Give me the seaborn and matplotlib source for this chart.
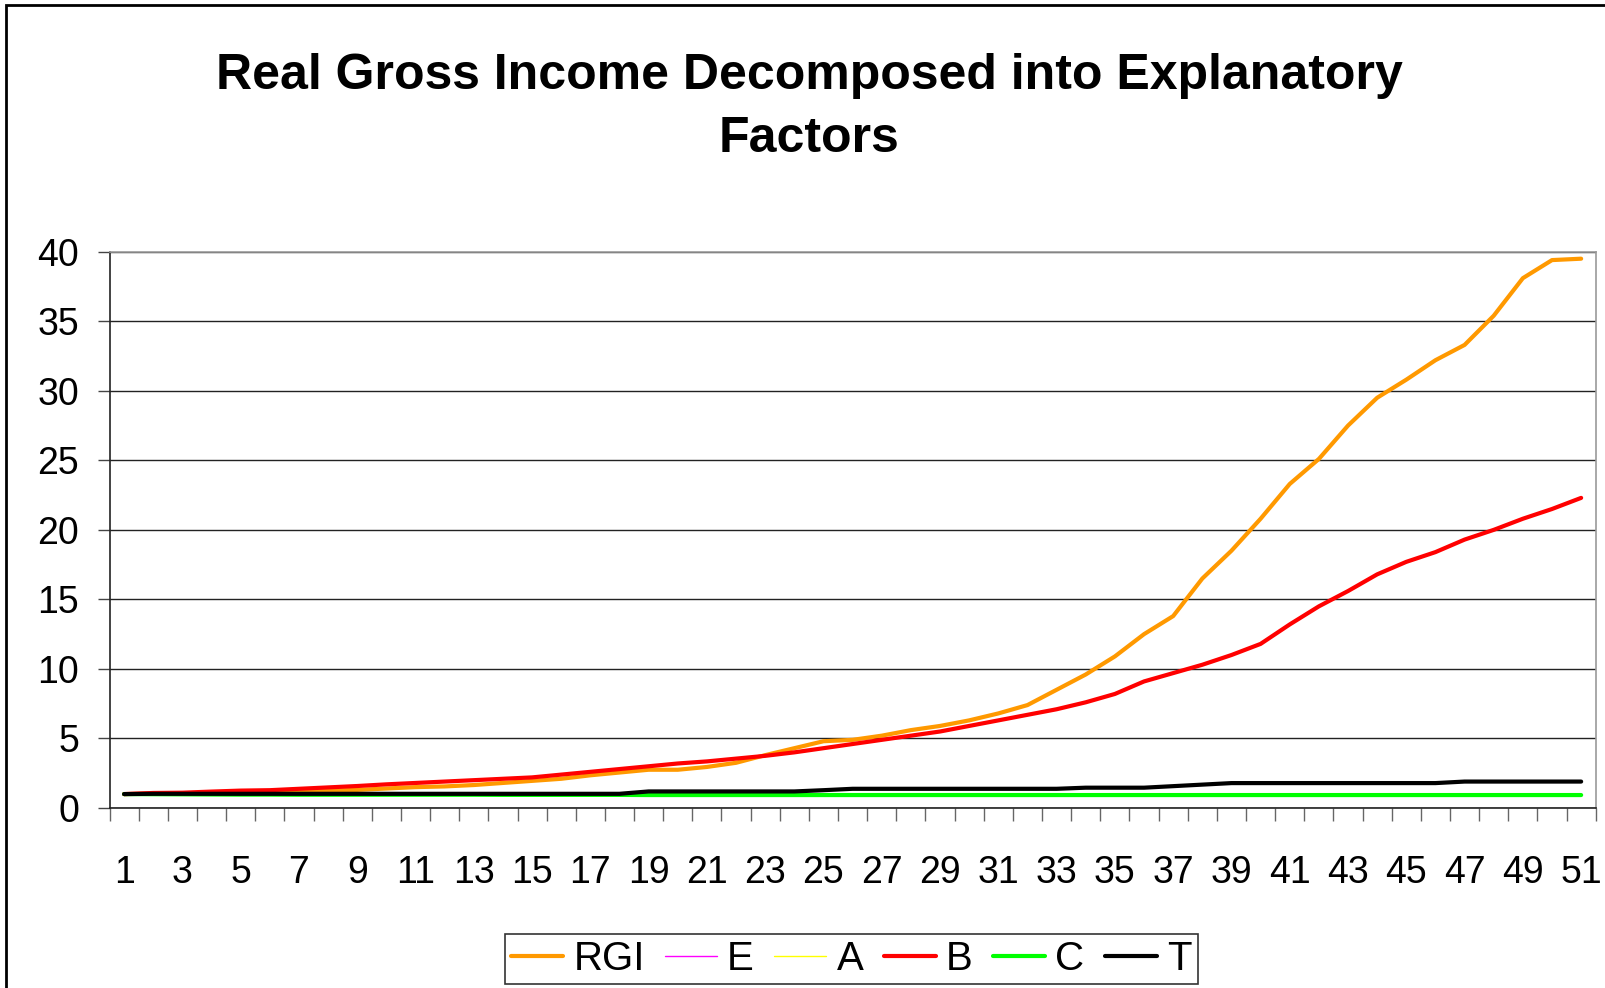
import numpy as np
import pandas as pd
import matplotlib
matplotlib.use("Agg")
import matplotlib.pyplot as plt
import seaborn as sns
from matplotlib.patches import Rectangle

# --- data ---
periods = list(range(1, 52))

rgi = [1.0, 1.03, 1.06, 1.1, 1.15, 1.2, 1.22, 1.25, 1.3, 1.4,
       1.5, 1.55, 1.65, 1.8, 1.95, 2.1, 2.35, 2.55, 2.75, 2.75,
       2.95, 3.25, 3.8, 4.3, 4.8, 4.9, 5.2, 5.6, 5.9, 6.3,
       6.8, 7.4, 8.5, 9.6, 10.9, 12.5, 13.8, 16.5, 18.5, 20.8,
       23.3, 25.1, 27.5, 29.5, 30.8, 32.2, 33.3, 35.4, 38.1, 39.4,
       39.5]

e_series = [1.0, 1.0, 1.0, 1.0, 1.0, 0.98, 0.95, 0.95, 0.97, 1.0,
            1.0, 1.0, 1.0, 1.0, 1.0, 1.0, 1.0, 1.0, 1.0, 1.0,
            1.0, 1.0, 1.0, 1.0, 1.0, 1.0, 1.0, 1.0, 1.0, 1.0,
            1.0, 1.0, 1.0, 1.0, 1.0, 1.0, 1.0, 1.0, 1.0, 1.0,
            1.0, 1.0, 1.0, 1.0, 1.0, 1.0, 1.0, 1.0, 1.0, 1.0,
            1.0]

a_series = [1.0] * 51

b_series = [1.0, 1.08, 1.1, 1.18, 1.25, 1.28, 1.38, 1.48, 1.58, 1.7,
            1.8, 1.9, 2.0, 2.1, 2.2, 2.4, 2.6, 2.8, 3.0, 3.2,
            3.35, 3.55, 3.75, 4.0, 4.3, 4.6, 4.9, 5.2, 5.5, 5.9,
            6.3, 6.7, 7.1, 7.6, 8.2, 9.1, 9.7, 10.3, 11.0, 11.8,
            13.2, 14.5, 15.6, 16.8, 17.7, 18.4, 19.3, 20.0, 20.8, 21.5,
            22.3]

c_series = [1.0, 0.99, 0.98, 0.97, 0.96, 0.96, 0.95, 0.95, 0.95, 0.95,
            0.95, 0.95, 0.95, 0.94, 0.94, 0.94, 0.94, 0.94, 0.93, 0.93,
            0.93, 0.93, 0.93, 0.93, 0.93, 0.93, 0.93, 0.93, 0.93, 0.93,
            0.93, 0.93, 0.93, 0.93, 0.93, 0.93, 0.93, 0.93, 0.93, 0.93,
            0.93, 0.93, 0.93, 0.93, 0.93, 0.93, 0.93, 0.93, 0.93, 0.93,
            0.93]

t_series = [1.0, 1.02, 1.02, 1.02, 1.02, 1.02, 1.02, 1.02, 1.02, 1.02,
            1.02, 1.02, 1.02, 1.02, 1.02, 1.02, 1.02, 1.02, 1.19, 1.19,
            1.19, 1.19, 1.19, 1.19, 1.28, 1.38, 1.38, 1.38, 1.38, 1.38,
            1.38, 1.38, 1.38, 1.46, 1.46, 1.46, 1.57, 1.68, 1.79, 1.79,
            1.79, 1.79, 1.79, 1.79, 1.79, 1.79, 1.9, 1.9, 1.9, 1.9,
            1.9]

series_names = ["RGI", "E", "A", "B", "C", "T"]
series_colors = ["#FF9900", "#FF00FF", "#FFFF00", "#FF0000", "#00FF00", "#000000"]
series_widths = [3.0, 1.0, 1.0, 3.0, 3.0, 3.0]

df = pd.DataFrame({"period": periods, "RGI": rgi, "E": e_series, "A": a_series,
                   "B": b_series, "C": c_series, "T": t_series})
long_df = df.melt(id_vars="period", var_name="series", value_name="value")

sns.set_style("white")
plt.rcParams["font.family"] = ["Liberation Sans", "DejaVu Sans"]
plt.rcParams["text.color"] = "black"
plt.rcParams["xtick.color"] = "black"
plt.rcParams["ytick.color"] = "black"

fig = plt.figure(figsize=(16.06, 9.88), dpi=100)
ax = fig.add_axes([0.0682, 0.1822, 0.9254, 0.563])

for name, col, lw in zip(series_names, series_colors, series_widths):
    sns.lineplot(data=long_df[long_df.series == name], x="period", y="value",
                 color=col, linewidth=lw, ax=ax, label=name, legend=False)

ax.set_xlim(0.5, 51.5)
ax.set_ylim(0, 40)
ax.set_xlabel("")
ax.set_ylabel("")

# y axis
ax.set_yticks(range(0, 41, 5))
ax.yaxis.grid(True, color="#222222", linewidth=1.0)
ax.xaxis.grid(False)
ax.tick_params(axis="y", which="major", left=True, length=9, width=1,
               direction="out", pad=13, labelsize=27, color="#444444",
               labelcolor="black")

# x axis: labels at odd periods, tick marks between categories
ax.set_xticks(periods[::2])
ax.set_xticklabels([str(p) for p in periods[::2]])
ax.set_xticks(np.arange(0.5, 52, 1), minor=True)
ax.tick_params(axis="x", which="major", bottom=True, length=0, pad=34,
               labelsize=27, labelcolor="black")
ax.tick_params(axis="x", which="minor", bottom=True, length=9, width=1,
               direction="out", color="#666666")

for side in ["left", "bottom"]:
    ax.spines[side].set_color("#222222")
    ax.spines[side].set_linewidth(1.2)
for side in ["top", "right"]:
    ax.spines[side].set_color("#999999")
    ax.spines[side].set_linewidth(1.2)

# title
fig.text(0.504, 1 - 89 / 988, "Real Gross Income Decomposed into Explanatory",
         ha="center", va="baseline", fontsize=36, fontweight="bold", color="black")
fig.text(0.504, 1 - 152 / 988, "Factors",
         ha="center", va="baseline", fontsize=36, fontweight="bold", color="black")

# legend
handles = ax.get_lines()[:len(series_names)]
leg = fig.legend(handles, series_names, loc="lower center", bbox_to_anchor=(0.53, 0.0),
                 ncol=6, fontsize=29, frameon=True, fancybox=False,
                 handlelength=1.3, handletextpad=0.25, columnspacing=0.5,
                 borderpad=0.15, borderaxespad=0.1)
leg.get_frame().set_edgecolor("#000000")
leg.get_frame().set_linewidth(1.2)
for txt in leg.get_texts():
    txt.set_color("black")

# outer chart border (cut off at right and bottom)
fig.patches.append(Rectangle((6 / 1606, -0.1), 1.2, 1 - 5 / 988 + 0.1,
                             transform=fig.transFigure, fill=False,
                             edgecolor="black", linewidth=2, zorder=0))

fig.savefig("out.png", dpi=100)
